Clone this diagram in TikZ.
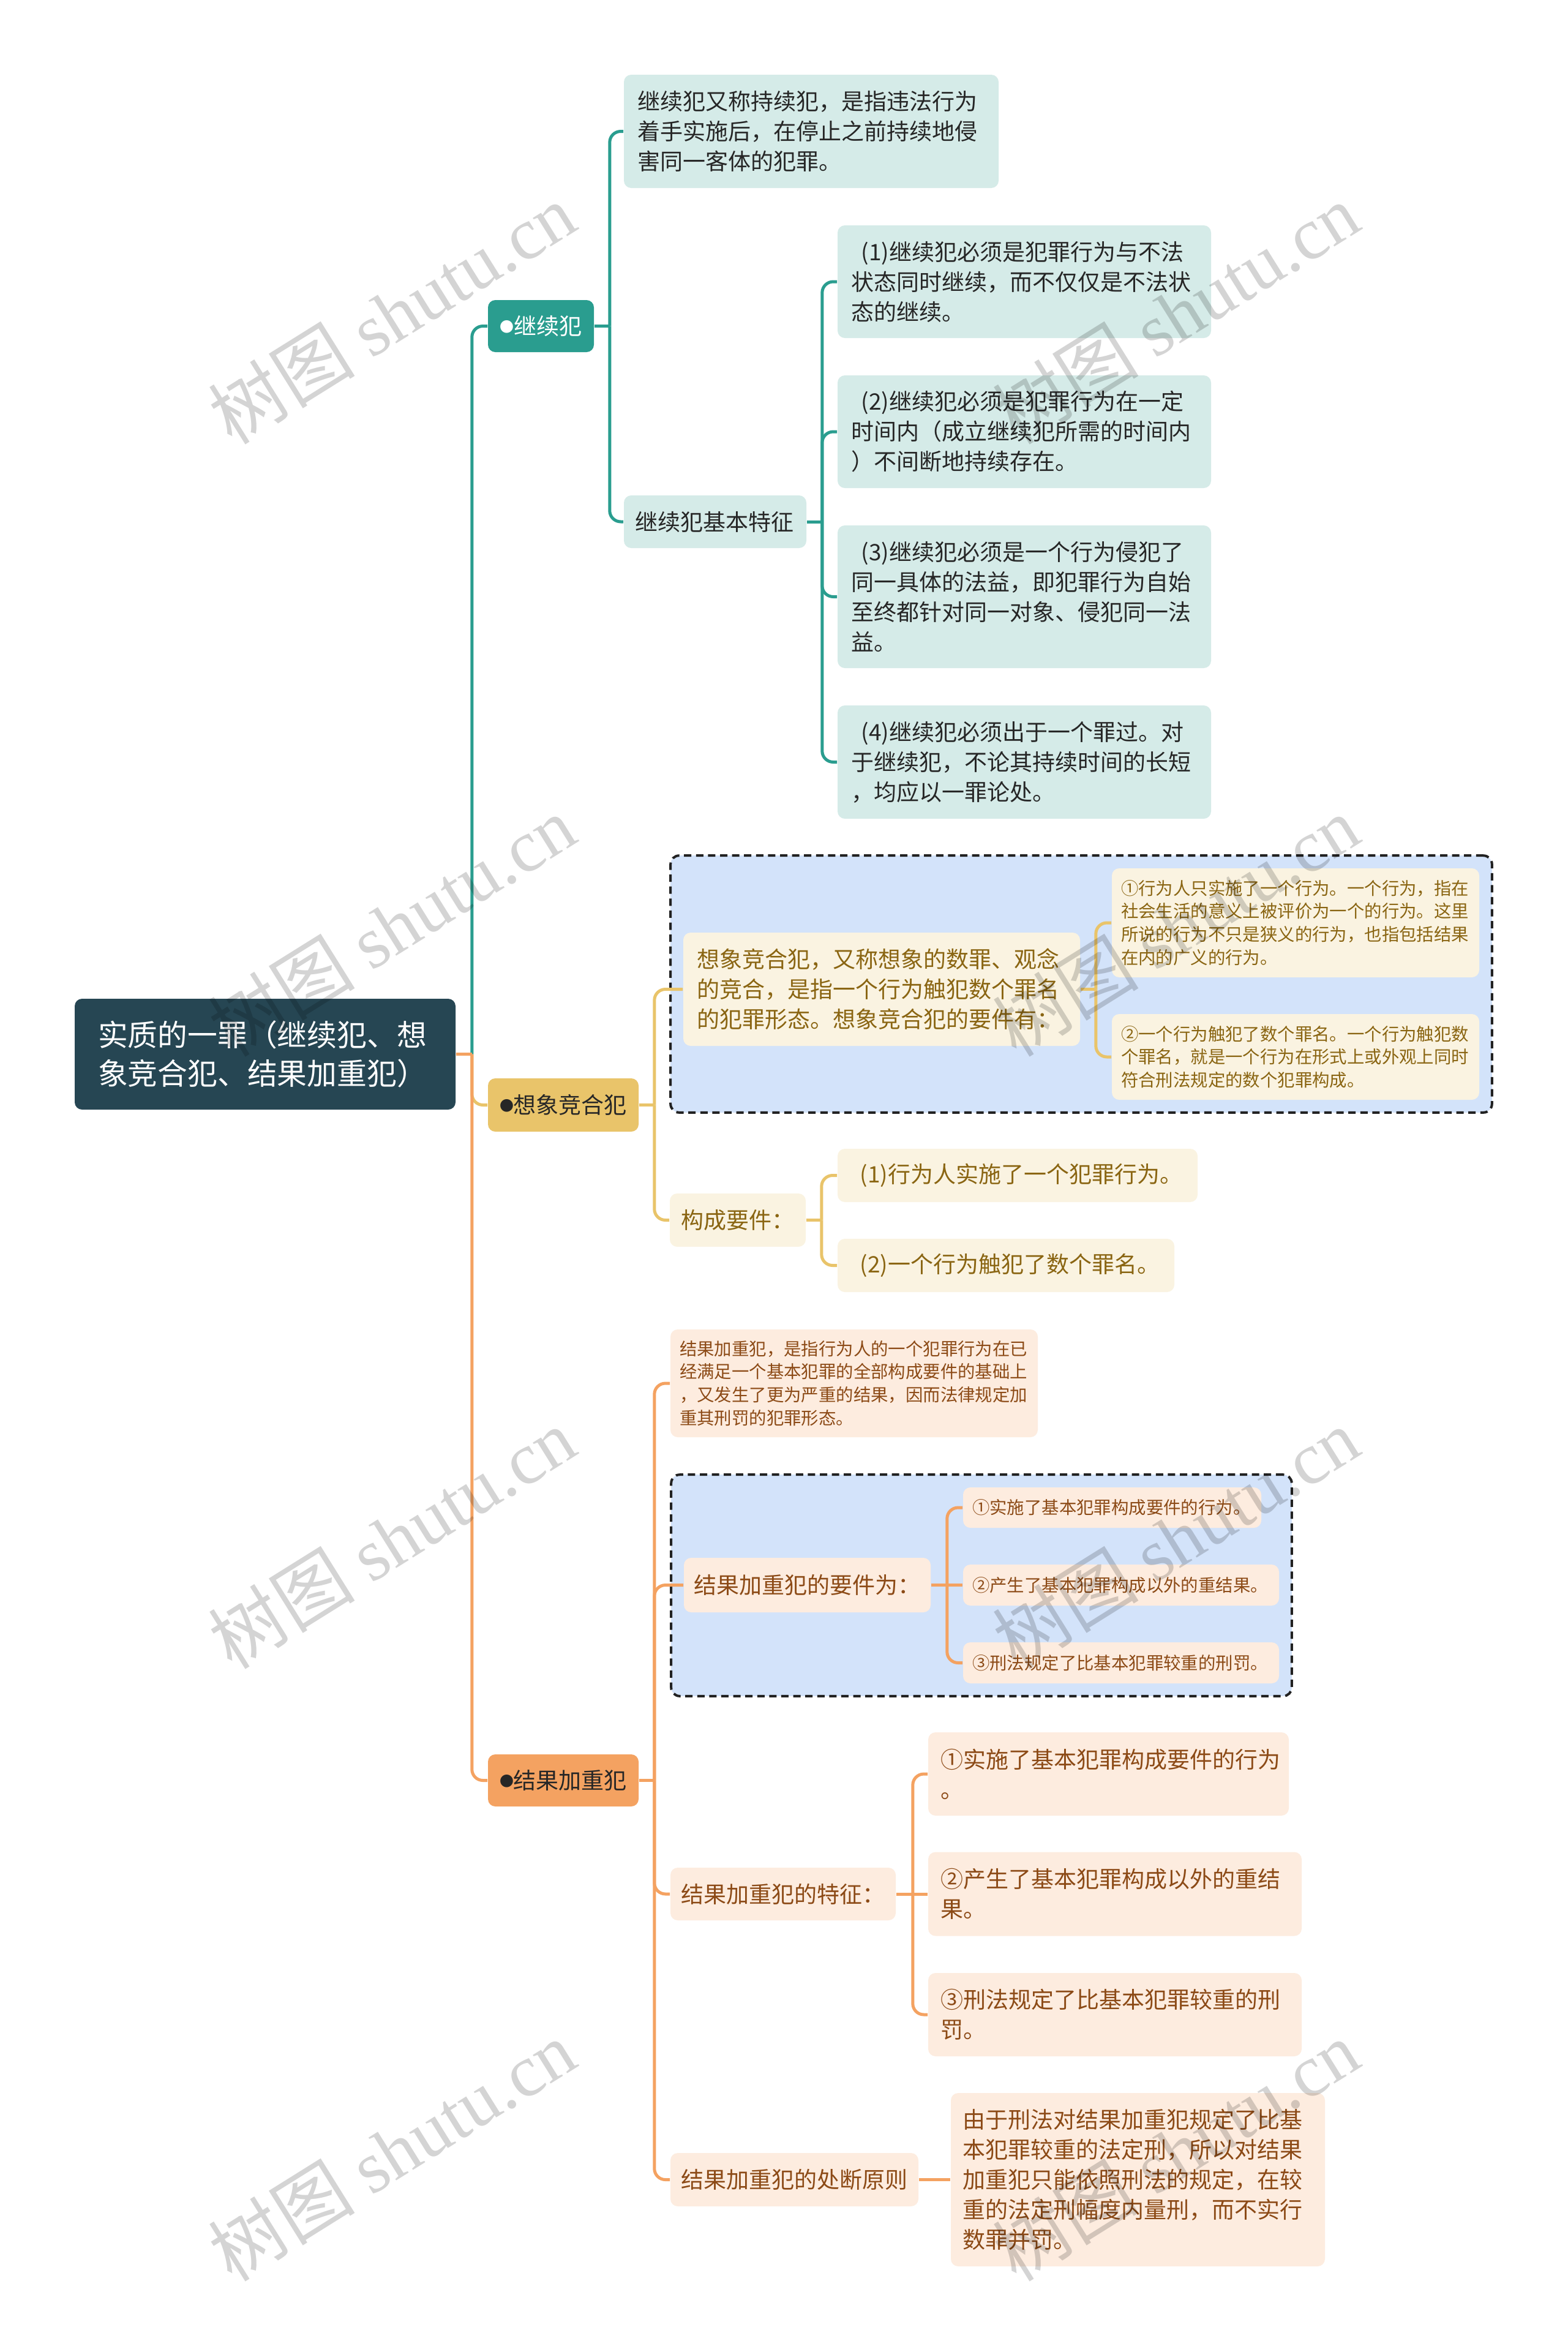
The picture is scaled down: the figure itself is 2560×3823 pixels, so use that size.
\documentclass[tikz,border=0pt]{standalone}
\usepackage{fontspec}
\setmainfont{Noto Sans CJK SC}
\newfontfamily\wmlatin{Liberation Serif}
\usetikzlibrary{fit,backgrounds}
\definecolor{rootc}{HTML}{264653}
\definecolor{teal}{HTML}{2A9D8F}
\definecolor{ylw}{HTML}{E9C46A}
\definecolor{org}{HTML}{F4A261}
\definecolor{tlight}{HTML}{D5EBE8}
\definecolor{ylight}{HTML}{FAF3E1}
\definecolor{olight}{HTML}{FDECDF}
\definecolor{blight}{HTML}{D3E3FA}
\definecolor{tdark}{HTML}{262626}
\definecolor{ydark}{HTML}{8A6512}
\definecolor{odark}{HTML}{8C4A16}
\definecolor{dashc}{HTML}{222222}
\newcommand{\dotb}{\raisebox{0.1em}{\scalebox{0.62}{●}}}
\tikzset{
  nd/.style={rounded corners=3pt, inner ysep=0pt, inner xsep=5.5pt, align=left},
  big/.style={font=\fontsize{9.25pt}{12.25pt}\selectfont},
  sml/.style={font=\fontsize{7.1pt}{9.4pt}\selectfont, inner xsep=3.75pt},
  tbox/.style={nd,big,fill=tlight,text=tdark},
  ybox/.style={nd,big,fill=ylight,text=ydark},
  obox/.style={nd,big,fill=olight,text=odark},
  lone/.style={rounded corners=3pt, inner sep=0pt, align=center, big},
  rootbox/.style={rounded corners=3pt, inner ysep=0pt, inner xsep=9.5pt, align=left,
    fill=rootc, text=white, font=\fontsize{12.2pt}{15.75pt}\selectfont},
  dbox/.style={draw=dashc, line width=1pt, dash pattern=on 3pt off 1.9pt,
    fill=blight, rounded corners=3.5pt, inner sep=5pt},
  conn/.style={line width=1.25pt, rounded corners=4.5pt},
  tc/.style={conn, draw=teal},
  yc/.style={conn, draw=ylw},
  oc/.style={conn, draw=org},
  wm/.style={rotate=32, text=black, text opacity=0.17, font=\fontsize{30pt}{30pt}\selectfont}
}
\begin{document}
\begin{tikzpicture}[x=0.25pt,y=-0.25pt]
\useasboundingbox (0,0) rectangle (2560,3823);
\begin{pgfonlayer}{background}
\fill[white] (0,0) rectangle (2560,3823);
\end{pgfonlayer}

% root
\node[rootbox, text width=136.5pt, minimum height=45.25pt] (root) at (433,1721.5)
  {实质的一罪（继续犯、想\\象竞合犯、结果加重犯）};

% level 1
\node[lone, fill=teal, text=white, minimum width=43.25pt, minimum height=21.25pt] (jx) at (883.5,532.5) {\dotb 继续犯};
\node[lone, fill=ylw, text=tdark, minimum width=61.5pt, minimum height=21.75pt] (xx) at (920,1804.5) {\dotb 想象竞合犯};
\node[lone, fill=org, text=tdark, minimum width=61.5pt, minimum height=21.25pt] (jg) at (920,2907.5) {\dotb 结果加重犯};

% 继续犯 branch
\node[tbox, text width=142pt, minimum height=46.25pt] (jxd) at (1325,214.5)
  {继续犯又称持续犯，是指违法行为\\着手实施后，在停止之前持续地侵\\害同一客体的犯罪。};
\node[tbox, inner xsep=4.5pt, text width=65.5pt, minimum height=21.5pt] (jxf) at (1168,852) {继续犯基本特征};
\node[tbox, text width=141.5pt, minimum height=46pt] (f1) at (1673,460)
  {\hspace*{0.45em}(1)继续犯必须是犯罪行为与不法\\状态同时继续，而不仅仅是不法状\\态的继续。};
\node[tbox, text width=141.5pt, minimum height=46pt] (f2) at (1673,705)
  {\hspace*{0.45em}(2)继续犯必须是犯罪行为在一定\\时间内（成立继续犯所需的时间内\\）不间断地持续存在。};
\node[tbox, text width=141.5pt, minimum height=58.25pt] (f3) at (1673,974.5)
  {\hspace*{0.45em}(3)继续犯必须是一个行为侵犯了\\同一具体的法益，即犯罪行为自始\\至终都针对同一对象、侵犯同一法\\益。};
\node[tbox, text width=141.5pt, minimum height=46.25pt] (f4) at (1673,1244.5)
  {\hspace*{0.45em}(4)继续犯必须出于一个罪过。对\\于继续犯，不论其持续时间的长短\\，均应以一罪论处。};

% 想象竞合犯 branch
\node[ybox, text width=151pt, minimum height=46.25pt] (xxd) at (1440,1615.5)
  {想象竞合犯，又称想象的数罪、观念\\的竞合，是指一个行为触犯数个罪名\\的犯罪形态。想象竞合犯的要件有：};
\node[ybox, sml, text width=142.5pt, minimum height=44.5pt] (xx1) at (2116,1507)
  {①行为人只实施了一个行为。一个行为，指在\\社会生活的意义上被评价为一个的行为。这里\\所说的行为不只是狭义的行为，也指包括结果\\在内的广义的行为。};
\node[ybox, sml, text width=142.5pt, minimum height=35pt] (xx2) at (2116,1726)
  {②一个行为触犯了数个罪名。一个行为触犯数\\个罪名，就是一个行为在形式上或外观上同时\\符合刑法规定的数个犯罪构成。};
\node[ybox, inner xsep=4.5pt, text width=46.5pt, minimum height=21.75pt] (xxk) at (1205,1992.5) {构成要件：};
\node[ybox, text width=136pt, minimum height=21.75pt] (k1) at (1662,1919.5) {\hspace*{0.4em}(1)行为人实施了一个犯罪行为。};
\node[ybox, text width=126.5pt, minimum height=21.75pt] (k2) at (1643,2066.5) {\hspace*{0.4em}(2)一个行为触犯了数个罪名。};

% 结果加重犯 branch
\node[obox, sml, text width=142.5pt, minimum height=44pt] (jgd) at (1395,2259)
  {结果加重犯，是指行为人的一个犯罪行为在已\\经满足一个基本犯罪的全部构成要件的基础上\\，又发生了更为严重的结果，因而法律规定加\\重其刑罚的犯罪形态。};
\node[obox, inner xsep=4pt, text width=92.75pt, minimum height=22.25pt] (jgy) at (1318.5,2588.5) {结果加重犯的要件为：};
\node[obox, sml, text width=114.25pt, minimum height=16.5pt] (y1) at (1816.5,2462) {①实施了基本犯罪构成要件的行为。};
\node[obox, sml, text width=121.5pt, minimum height=16.75pt] (y2) at (1831,2588.5) {②产生了基本犯罪构成以外的重结果。};
\node[obox, sml, text width=121.5pt, minimum height=16.75pt] (y3) at (1831,2715.5) {③刑法规定了比基本犯罪较重的刑罚。};
\node[obox, inner xsep=4.25pt, text width=83.5pt, minimum height=21.5pt] (jgt) at (1279,3093) {结果加重犯的特征：};
\node[obox, inner xsep=5pt, text width=137.25pt, minimum height=34pt] (t1) at (1810.5,2897) {①实施了基本犯罪构成要件的行为\\。};
\node[obox, inner xsep=5pt, text width=142.5pt, minimum height=34.25pt] (t2) at (1821,3093) {②产生了基本犯罪构成以外的重结\\果。};
\node[obox, inner xsep=5pt, text width=142.5pt, minimum height=34pt] (t3) at (1821,3290) {③刑法规定了比基本犯罪较重的刑\\罚。};
\node[obox, inner xsep=4.25pt, text width=92.75pt, minimum height=21.75pt] (jgp) at (1297.5,3559.5) {结果加重犯的处断原则};
\node[obox, inner xsep=4.75pt, text width=143.25pt, minimum height=70.75pt] (p1) at (1858.5,3559.5)
  {由于刑法对结果加重犯规定了比基\\本犯罪较重的法定刑，所以对结果\\加重犯只能依照刑法的规定，在较\\重的法定刑幅度内量刑，而不实行\\数罪并罚。};

% dashed group frames
\begin{pgfonlayer}{background}
\node[dbox, fit=(xxd)(xx1)(xx2)] (xxbg) {};
\node[dbox, fit=(jgy)(y1)(y2)(y3)] (jgbg) {};
\end{pgfonlayer}

% junction coordinates
\coordinate (rj) at ([xshift=6.5pt]root.east);
\coordinate (jxj) at ([xshift=6.25pt]jx.east);
\coordinate (fj) at ([xshift=6.25pt]jxf.east);
\coordinate (xxj) at ([xshift=6.25pt]xx.east);
\coordinate (xdj) at ([xshift=6.25pt]xxd.east);
\coordinate (kj) at ([xshift=6.25pt]xxk.east);
\coordinate (jgj) at ([xshift=6.25pt]jg.east);
\coordinate (yj) at ([xshift=6.5pt]jgy.east);
\coordinate (tj) at ([xshift=6.75pt]jgt.east);

% trunk
\draw[yc] (rj) |- (xx.west);
\draw[tc] (rj) |- (jx.west);
\draw[oc] (rj) |- (jg.west);
\draw[oc] (root.east) -- (rj);

% 继续犯
\draw[tc] (jx.east) -- (jxj);
\draw[tc] (jxj) |- (jxd.west);
\draw[tc] (jxj) |- (jxf.west);
\draw[tc] (jxf.east) -- (fj);
\draw[tc] (fj) |- (f1.west);
\draw[tc] (fj) |- (f2.west);
\draw[tc] (fj) |- (f3.west);
\draw[tc] (fj) |- (f4.west);

% 想象竞合犯
\draw[yc] (xx.east) -- (xxj);
\draw[yc] (xxj) |- (xxd.west);
\draw[yc] (xxj) |- (xxk.west);
\draw[yc] (xxd.east) -- (xdj);
\draw[yc] (xdj) |- (xx1.west);
\draw[yc] (xdj) |- (xx2.west);
\draw[yc] (xxk.east) -- (kj);
\draw[yc] (kj) |- (k1.west);
\draw[yc] (kj) |- (k2.west);

% 结果加重犯
\draw[oc] (jg.east) -- (jgj);
\draw[oc] (jgj) |- (jgd.west);
\draw[oc] (jgj) |- (jgy.west);
\draw[oc] (jgj) |- (jgt.west);
\draw[oc] (jgj) |- (jgp.west);
\draw[oc] (jgy.east) -- (yj);
\draw[oc] (yj) |- (y1.west);
\draw[oc] (yj) -- (y2.west);
\draw[oc] (yj) |- (y3.west);
\draw[oc] (jgt.east) -- (tj);
\draw[oc] (tj) |- (t1.west);
\draw[oc] (tj) -- (t2.west);
\draw[oc] (tj) |- (t3.west);
\draw[oc] (jgp.east) -- (p1.west);

% watermarks
\node[wm] (w1) at (640,512) {树图\ {\wmlatin shutu.cn}};
\node[wm] (w2) at (1920,512) {树图\ {\wmlatin shutu.cn}};
\node[wm] (w3) at (640,1512) {树图\ {\wmlatin shutu.cn}};
\node[wm] (w4) at (1920,1512) {树图\ {\wmlatin shutu.cn}};
\node[wm] (w5) at (640,2512) {树图\ {\wmlatin shutu.cn}};
\node[wm] (w6) at (1920,2512) {树图\ {\wmlatin shutu.cn}};
\node[wm] (w7) at (640,3512) {树图\ {\wmlatin shutu.cn}};
\node[wm] (w8) at (1920,3512) {树图\ {\wmlatin shutu.cn}};
\end{tikzpicture}
\end{document}
